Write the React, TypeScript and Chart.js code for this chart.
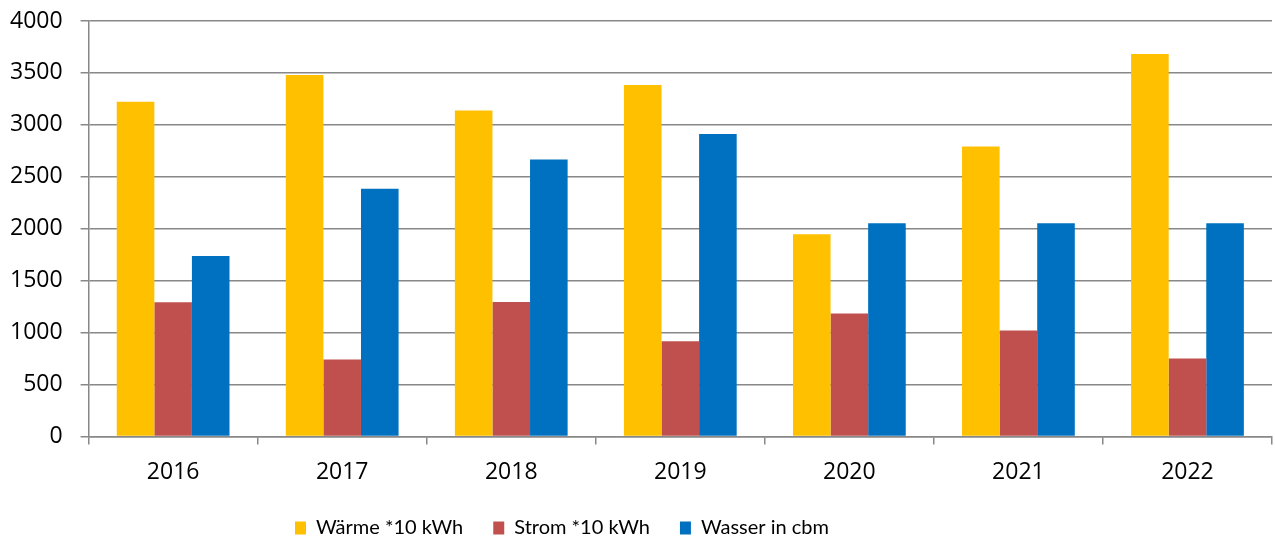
import React, { useEffect, useRef } from "react";
import { Chart, registerables } from "chart.js";

Chart.register(...registerables);

const years = ["2016", "2017", "2018", "2019", "2020", "2021", "2022"];
const waerme = [3222, 3480, 3139, 3384, 1946, 2792, 3683];
const strom = [1292, 740, 1295, 916, 1183, 1019, 749];
const wasser = [1737, 2385, 2667, 2913, 2052, 2052, 2052];
const seriesNames = ["Wärme *10 kWh", "Strom *10 kWh", "Wasser in cbm"];
const seriesColors = ["#FFC000", "#C0504D", "#0070C0"];

const FONT = "'Open Sans', 'Liberation Sans', sans-serif";
const LEGEND_FONT = "Lato, 'Open Sans', sans-serif";
const GRID = "#888888";

const legendShift = {
  id: "legendShift",
  afterLayout(chart: any) {
    const l = chart.legend;
    if (l) {
      l.left -= 70;
      l.right -= 70;
    }
  },
};

export default function App() {
  const ref = useRef<HTMLCanvasElement | null>(null);

  useEffect(() => {
    if (!ref.current) return;
    const chart = new Chart(ref.current, {
      type: "bar",
      data: {
        labels: years,
        datasets: [waerme, strom, wasser].map((d, i) => ({
          label: seriesNames[i],
          data: d,
          backgroundColor: seriesColors[i],
          borderWidth: 0,
          categoryPercentage: 0.667,
          barPercentage: 1,
        })),
      },
      plugins: [legendShift],
      options: {
        animation: false,
        responsive: true,
        maintainAspectRatio: false,
        layout: { padding: { left: -8, right: 3, top: 21, bottom: -11 } },
        plugins: {
          tooltip: { enabled: false },
          legend: {
            position: "bottom",
            labels: {
              font: { family: LEGEND_FONT, size: 20 },
              color: "#000",
              boxWidth: 11,
              boxHeight: 13,
              padding: 30,
            },
          },
        },
        scales: {
          x: {
            afterFit: (scale: any) => {
              scale.height -= 12;
            },
            grid: {
              drawOnChartArea: false,
              drawTicks: true,
              tickLength: 8,
              color: GRID,
              lineWidth: 1.5,
            },
            border: { display: true, color: GRID, width: 1.5 },
            ticks: {
              font: { family: FONT, size: 23 },
              color: "#000",
              padding: 14,
            },
          },
          y: {
            min: 0,
            max: 4000,
            afterFit: (scale: any) => {
              scale.paddingTop = 0;
            },
            grid: { color: GRID, lineWidth: 1.5, tickLength: 8 },
            border: { display: true, color: GRID, width: 1.5 },
            ticks: {
              stepSize: 500,
              font: { family: FONT, size: 23 },
              color: "#000",
              padding: 18,
              callback: (v: any) => String(v),
            },
          },
        },
      },
    });
    return () => chart.destroy();
  }, []);

  return (
    <div style={{ position: "absolute", left: 0, top: 0, width: 1275, height: 537, background: "#fff" }}>
      <canvas ref={ref} />
    </div>
  );
}
